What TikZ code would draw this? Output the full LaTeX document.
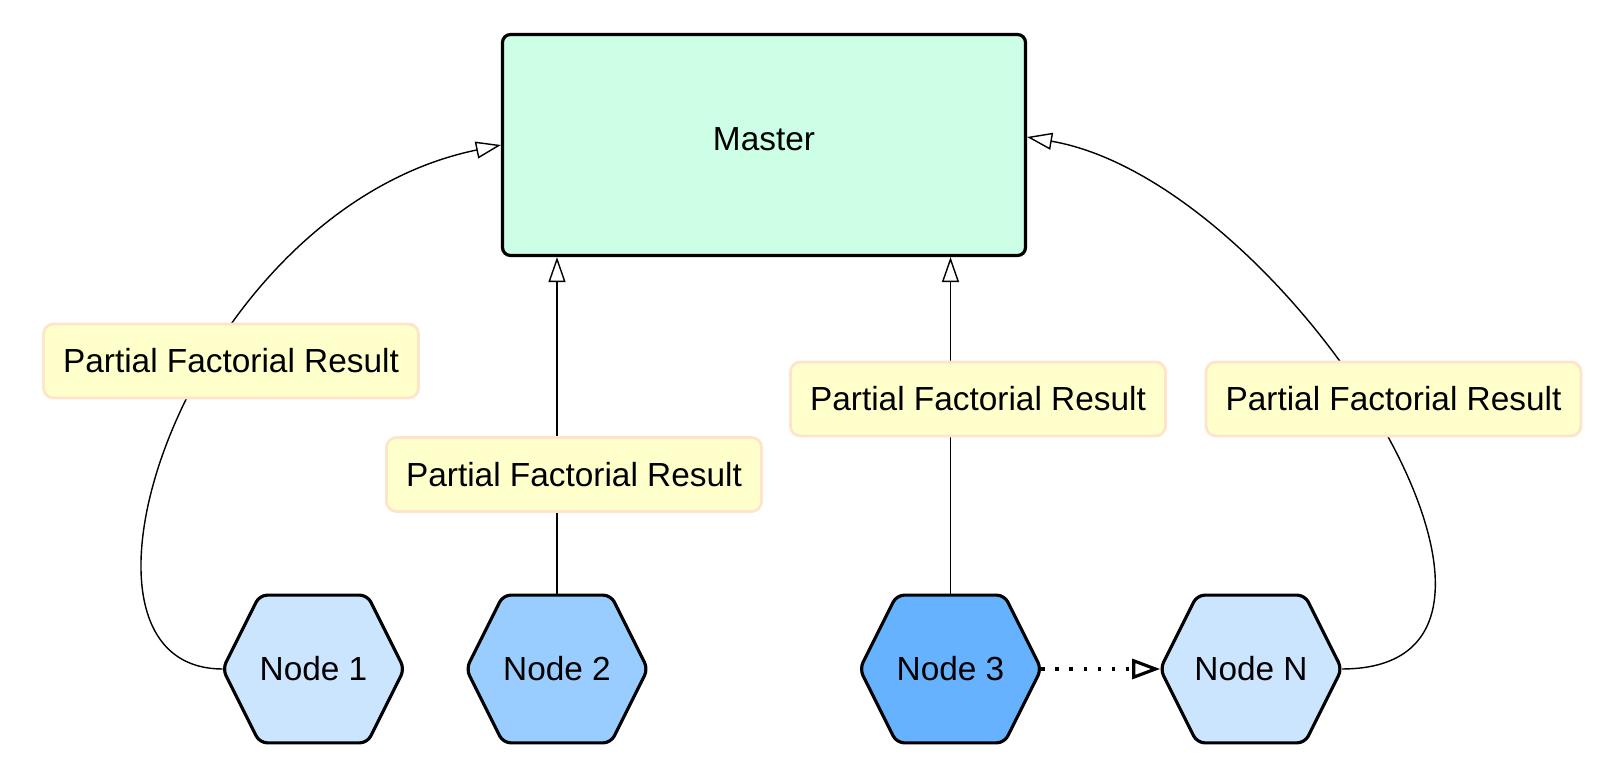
\documentclass[tikz,border=0pt]{standalone}
\usepackage{fontspec}
\setmainfont{Liberation Sans}
\usetikzlibrary{arrows.meta,backgrounds}
\definecolor{masterfill}{RGB}{204,255,230}
\definecolor{nodelight}{RGB}{204,229,255}
\definecolor{nodemid}{RGB}{153,204,255}
\definecolor{nodedark}{RGB}{102,178,255}
\definecolor{resultfill}{RGB}{255,255,204}
\definecolor{resultline}{RGB}{255,228,204}
\tikzset{
  master/.style={draw=black, fill=masterfill, line width=1.8pt, rounded corners=0.16cm, minimum width=10.46cm, minimum height=4.42cm, text depth=0.22cm},
  hexnode/.style={minimum width=3.62cm, minimum height=2.94cm, inner sep=0pt},
  hexline/.style={draw=black, line width=1.8pt, rounded corners=0.15cm},
  result/.style={draw=resultline, fill=resultfill, line width=1.6pt, rounded corners=0.2cm, minimum width=7.5cm, minimum height=1.48cm},
  conn/.style={line width=0.8pt, -{Triangle[open,length=0.5cm,width=0.34cm]}},
  dotnext/.style={line width=1.8pt, dash pattern=on 1.8pt off 6.2pt, -{Triangle[open,length=0.56cm,width=0.4cm]}}
}
\begin{document}
\begin{tikzpicture}[font=\fontsize{19}{23}\selectfont]
\useasboundingbox (0,0) rectangle (32.06,15.3);
\node[master] (master) at (15.28,12.40) {Master};
\node[hexnode] (n1) at (6.27,1.92) {Node 1};
\node[hexnode] (n2) at (11.14,1.92) {Node 2};
\node[hexnode] (n3) at (19.01,1.92) {Node 3};
\node[hexnode] (nN) at (25.02,1.92) {Node N};
\begin{scope}[on background layer]
\foreach \n/\c in {n1/nodelight, n2/nodemid, n3/nodedark, nN/nodelight}
  \filldraw[hexline, fill=\c] (\n.west) -- ([xshift=0.74cm]\n.north west) -- ([xshift=-0.74cm]\n.north east) -- (\n.east) -- ([xshift=-0.74cm]\n.south east) -- ([xshift=0.74cm]\n.south west) -- cycle;
\end{scope}
\draw[conn] (n1.west) .. controls +(-3.7,0) and +(-6.3,-1.3) .. (master.west);
\draw[conn] (n2.north) -- (n2.north |- master.south);
\draw[conn] (n3.north) -- (n3.north |- master.south);
\draw[conn] (nN.east) .. controls +(5,0) and +(5.2,-0.9) .. ([yshift=0.16cm]master.east);
\draw[dotnext] (n3.east) -- (nN.west);
\node[result] (res1) at (4.62,8.08) {Partial Factorial Result};
\node[result] (res2) at (11.48,5.81) {Partial Factorial Result};
\node[result] (res3) at (19.56,7.32) {Partial Factorial Result};
\node[result] (resN) at (27.87,7.32) {Partial Factorial Result};
\end{tikzpicture}
\end{document}
